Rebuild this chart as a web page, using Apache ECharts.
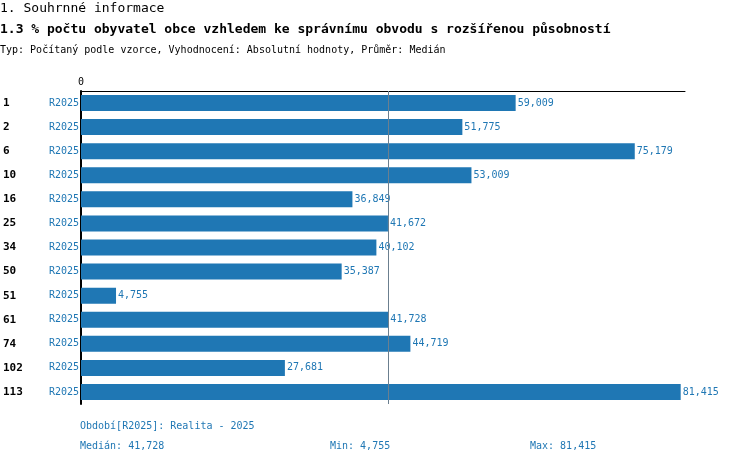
<!DOCTYPE html>
<html><head><meta charset="utf-8">
<script src="https://cdn.jsdelivr.net/npm/echarts@6/dist/echarts.min.js"></script>
<style>body{margin:0}#c{width:750px;height:464px}</style>
</head><body><div id="c"></div>
<script>
var categories = ['1','2','6','10','16','25','34','50','51','61','74','102','113'];
var periodLabel = 'R2025';
var values = [59.009,51.775,75.179,53.009,36.849,41.672,40.102,35.387,4.755,41.728,44.719,27.681,81.415];
var median = 41.728;
var axisMax = 82;

var font = '"DejaVu Sans Mono", monospace';
var blue = '#1f77b4';
function fmt(v){ return v.toFixed(3).replace('.', ','); }

var myChart = echarts.init(document.getElementById('c'));
var option = {
    animation: false,
    textStyle: { fontFamily: font },
    graphic: [
        { type:'text', left:0, top:2, style:{ text:'1. Souhrnné informace', font:'13px '+font, fill:'#000' } },
        { type:'text', left:0, top:23, style:{ text:'1.3 % počtu obyvatel obce vzhledem ke správnímu obvodu s rozšířenou působností', font:'bold 13px '+font, fill:'#000' } },
        { type:'text', left:0, top:45, style:{ text:'Typ: Počítaný podle vzorce, Vyhodnocení: Absolutní hodnoty, Průměr: Medián', font:'10px '+font, fill:'#000' } },
        { type:'text', left:80, top:421, style:{ text:'Období[R2025]: Realita - 2025', font:'10px '+font, fill:blue } },
        { type:'text', left:80, top:441, style:{ text:'Medián: ' + fmt(median), font:'10px '+font, fill:blue } },
        { type:'text', left:330, top:441, style:{ text:'Min: ' + fmt(Math.min.apply(null, values)), font:'10px '+font, fill:blue } },
        { type:'text', left:530, top:441, style:{ text:'Max: ' + fmt(Math.max.apply(null, values)), font:'10px '+font, fill:blue } }
    ],
    grid: { left:80, right:65, top:91, bottom:60 },
    xAxis: {
        type:'value', position:'top', min:0, max:axisMax, interval:axisMax,
        axisLine:{ show:true, lineStyle:{ color:'#000', width:1 } },
        axisTick:{ show:false }, splitLine:{ show:false },
        axisLabel:{ formatter:function(v){ return v === 0 ? '0' : ''; }, fontSize:10, color:'#000', fontFamily:font, margin:4 }
    },
    yAxis: {
        type:'category', inverse:true, data:categories,
        axisLine:{ show:true, lineStyle:{ color:'#000', width:2 } },
        axisTick:{ show:false },
        axisLabel:{
            margin:2,
            formatter:function(v){ return '{a|' + v + '}{b|' + periodLabel + '}'; },
            rich:{
                a:{ width:46, align:'left', fontWeight:'bold', fontSize:11, color:'#000', fontFamily:font, padding:[0,0,0,10] },
                b:{ width:30, align:'right', fontSize:10, color:blue, fontFamily:font }
            }
        }
    },
    series: [{
        type:'bar', data:values, barWidth:16,
        itemStyle:{ color:blue },
        label:{ show:true, position:'right', distance:2, color:blue, fontSize:10, fontFamily:font,
            formatter:function(p){ return fmt(p.value); } },
        markLine:{ silent:true, symbol:'none', label:{ show:false },
            lineStyle:{ color:'#6b7f8f', width:1, type:'solid' },
            data:[{ xAxis: median }] }
    }]
};
myChart.setOption(option);
</script></body></html>
